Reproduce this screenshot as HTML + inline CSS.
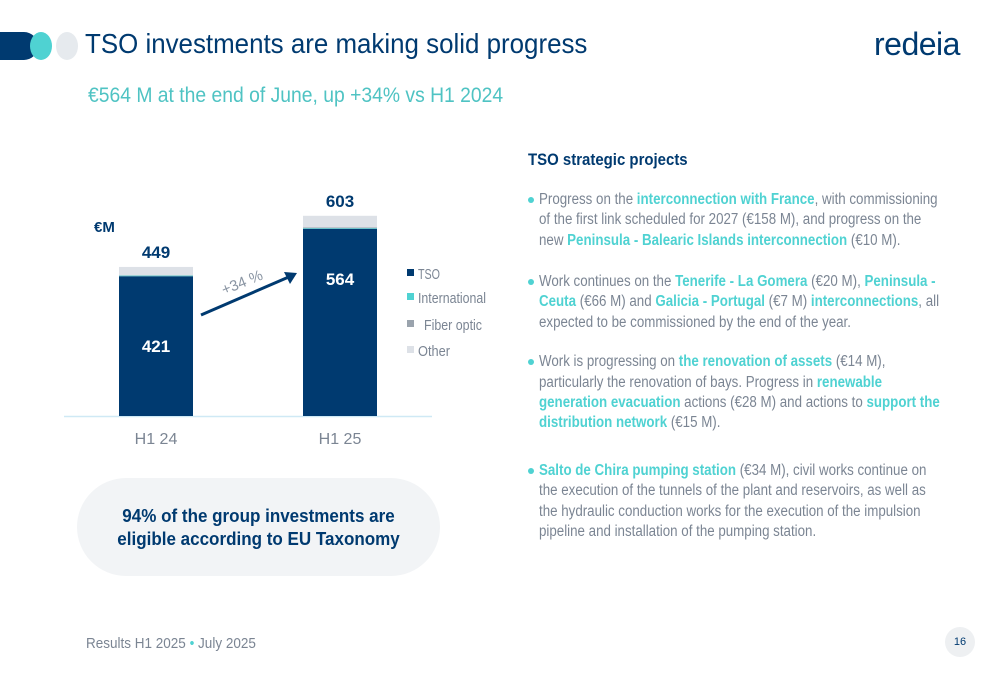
<!DOCTYPE html>
<html><head><meta charset="utf-8"><style>
body{margin:0;width:1000px;height:685px;background:#fff;position:relative;overflow:hidden;font-family:"Liberation Sans",sans-serif}
.abs{position:absolute}
.ln{position:absolute;left:539px;white-space:nowrap;font-size:15.5px;color:#7b8593;transform:scaleX(0.86);transform-origin:left center;line-height:20px}
.ln b{color:#4fd2d2}
.dot{position:absolute;left:528px;width:6px;height:6px;border-radius:50%;background:#4fd2d2}
</style></head><body>
<div class="abs" style="left:0;top:32px;width:38px;height:28px;background:#003a70;border-radius:0 14px 14px 0"></div>
<div class="abs" style="left:30px;top:32px;width:22px;height:28px;background:#4fd2d2;border-radius:50%"></div>
<div class="abs" style="left:56px;top:32px;width:22px;height:28px;background:#e6eaee;border-radius:50%"></div>
<div class="abs" style="left:85px;top:28px;font-size:28px;color:#003a70;transform:scaleX(0.925);transform-origin:left;white-space:nowrap">TSO investments are making solid progress</div>
<div class="abs" style="left:874px;top:26px;font-size:32px;color:#003a70;letter-spacing:-0.5px">redeia</div>
<div class="abs" style="left:88px;top:84px;font-size:21px;color:#4fc3c3;transform:scaleX(0.92);transform-origin:left;white-space:nowrap">€564 M at the end of June, up +34% vs H1 2024</div>

<svg class="abs" style="left:0;top:0" width="520" height="470" id="chart"></svg>

<div class="abs" style="left:77px;top:478px;width:363px;height:98px;border-radius:49px;background:#f2f4f6;display:flex;align-items:center;justify-content:center;text-align:center;color:#003a70;font-weight:bold;font-size:18.5px;line-height:23px"><div style="transform:scaleX(0.92)">94% of the group investments are<br>eligible according to EU Taxonomy</div></div>
<div class="abs" style="left:86px;top:635px;font-size:15px;color:#7b8593;transform:scaleX(0.9);transform-origin:left;white-space:nowrap">Results H1 2025 <span style="color:#4fd2d2">•</span> July 2025</div>
<div class="abs" style="left:945px;top:627px;width:30px;height:30px;border-radius:50%;background:#eef0f2;font-size:11px;color:#003a70;text-align:center;line-height:30px">16</div>

<div class="abs" style="left:528px;top:150px;font-size:17px;font-weight:bold;color:#003a70;transform:scaleX(0.88);transform-origin:left;white-space:nowrap">TSO strategic projects</div>
<div>
<div class="dot" style="top:197px"></div>
<div class="ln" style="top:190px">Progress on the <b>interconnection with France</b>, with commissioning</div>
<div class="ln" style="top:210px">of the first link scheduled for 2027 (€158 M), and progress on the</div>
<div class="ln" style="top:231px">new <b>Peninsula - Balearic Islands interconnection</b> (€10 M).</div>
<div class="dot" style="top:279px"></div>
<div class="ln" style="top:272px">Work continues on the <b>Tenerife - La Gomera</b> (€20 M), <b>Peninsula -</b></div>
<div class="ln" style="top:292px"><b>Ceuta</b> (€66 M) and <b>Galicia - Portugal</b> (€7 M) <b>interconnections</b>, all</div>
<div class="ln" style="top:313px">expected to be commissioned by the end of the year.</div>
<div class="dot" style="top:359px"></div>
<div class="ln" style="top:352px">Work is progressing on <b>the renovation of assets</b> (€14 M),</div>
<div class="ln" style="top:373px">particularly the renovation of bays. Progress in <b>renewable</b></div>
<div class="ln" style="top:393px"><b>generation evacuation</b> actions (€28 M) and actions to <b>support the</b></div>
<div class="ln" style="top:413px"><b>distribution network</b> (€15 M).</div>
<div class="dot" style="top:468px"></div>
<div class="ln" style="top:461px"><b>Salto de Chira pumping station</b> (€34 M), civil works continue on</div>
<div class="ln" style="top:481px">the execution of the tunnels of the plant and reservoirs, as well as</div>
<div class="ln" style="top:502px">the hydraulic conduction works for the execution of the impulsion</div>
<div class="ln" style="top:522px">pipeline and installation of the pumping station.</div>
</div>

<script>
const categories=["H1 24","H1 25"];
const tso=[421,564];
const international=[2,2];
const fiber=[1,2];
const other=[25,35];
const totals=[449,603];
const seriesNames=["TSO","International","Fiber optic","Other"];
const NS="http://www.w3.org/2000/svg";
const svg=document.getElementById('chart');
const base=416, scale=0.332;
const xs=i=>119+i*184, bw=74;
const y=v=>base-v*scale;
function mk(t,a,parent){const e=document.createElementNS(NS,t);for(const k in a)e.setAttribute(k,a[k]);(parent||svg).appendChild(e);return e;}
const colors=["#003a70","#4fd2d2","#9aa3ad","#dde1e7"];
const series=[tso,international,fiber,other];
const ax=mk('line',{x1:64,x2:432,y1:base+0.5,y2:base+0.5,stroke:'#cfe9f5','stroke-width':1.5});


categories.forEach((c,i)=>{
  let acc=0;
  series.forEach((s,k)=>{
    const r=mk('rect',{x:xs(i),y:y(acc+s[i]),width:bw,height:s[i]*scale,fill:colors[k]});
    
    
    acc+=s[i];
  });
  const t=mk('text',{x:xs(i)+bw/2,y:y(totals[i])-9,'text-anchor':'middle','font-size':17,'font-weight':'bold',fill:'#003a70'});
  t.textContent=totals[i];
  
  
  const ly=i===0?y(tso[i]/2)+6:y(tso[i])+56;
  const v=mk('text',{x:xs(i)+bw/2,y:ly,'text-anchor':'middle','font-size':17,'font-weight':'bold',fill:'#fff'});
  v.textContent=tso[i];
  
  
  const l=mk('text',{x:xs(i)+bw/2,y:444,'text-anchor':'middle','font-size':16,fill:'#7b8593'});
  l.textContent=c;
  
  
});
const u=mk('text',{x:94,y:232,'font-size':15,'font-weight':'bold',fill:'#003a70'});
u.textContent='€M';


const arr=mk('line',{x1:201,y1:315,x2:291,y2:276,stroke:'#003a70','stroke-width':3});


mk('polygon',{points:'297,273 284,272 290,284',fill:'#003a70'});
const g=mk('text',{x:0,y:0,'font-size':15,fill:'#8a95a3',transform:'translate(224,295) rotate(-22)'});
g.textContent='+34 %';


seriesNames.forEach((n,k)=>{
  const yy=[274,298,325,351][k];
  const r=mk('rect',{x:407,y:yy-5,width:7,height:7,fill:colors[k]});
  
  
  const t=mk('text',{x:k==2?424:418,y:yy+5,'font-size':15,fill:'#7b8593',textLength:[22,68,58,32][k],lengthAdjust:'spacingAndGlyphs'});
  t.textContent=n;
  
  
});
</script>
</body></html>
